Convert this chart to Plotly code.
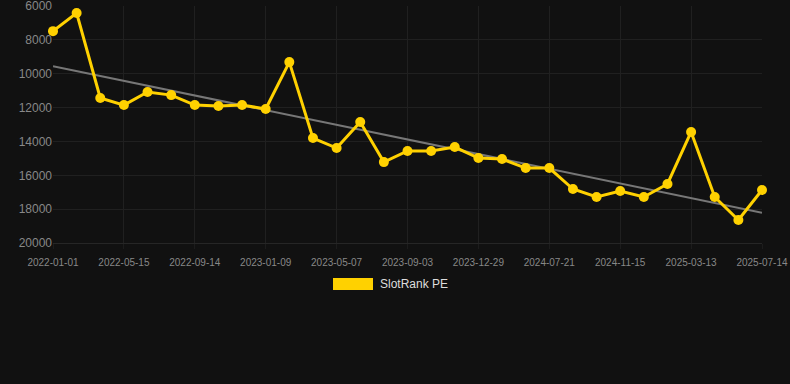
import plotly.graph_objects as go

dates = ["2022-01-01", "2022-02-14", "2022-03-30", "2022-05-15", "2022-06-24", "2022-08-04",
         "2022-09-14", "2022-10-24", "2022-12-01", "2023-01-09", "2023-02-17", "2023-03-28",
         "2023-05-07", "2023-06-15", "2023-07-25", "2023-09-03", "2023-10-11", "2023-11-20",
         "2023-12-29", "2024-03-10", "2024-05-15", "2024-07-21", "2024-08-30", "2024-10-08",
         "2024-11-15", "2024-12-24", "2025-02-01", "2025-03-13", "2025-04-21", "2025-06-04",
         "2025-07-14"]
rank = [7480, 6410, 11430, 11850, 11080, 11260, 11850, 11900, 11850, 12080, 9310, 13800,
        14390, 12850, 15220, 14560, 14560, 14330, 14980, 15040, 15570, 15570, 16810, 17280,
        16930, 17280, 16510, 13440, 17280, 18640, 16870]
trend_x = [dates[0], dates[-1]]
trend_y = [9550, 18210]
tick_labels = dates[::3]
y_ticks = [6000, 8000, 10000, 12000, 14000, 16000, 18000, 20000]
series_name = "SlotRank PE"
yellow = "#FFD100"

fig = go.Figure()
fig.add_trace(go.Scatter(x=trend_x, y=trend_y, mode="lines",
                         line=dict(color="#777777", width=2), showlegend=False,
                         hoverinfo="skip", cliponaxis=False))
fig.add_trace(go.Scatter(x=dates, y=rank, mode="lines+markers", name=series_name,
                         line=dict(color=yellow, width=3),
                         marker=dict(color=yellow, size=10),
                         showlegend=False, cliponaxis=False))

fig.update_layout(
    width=790, height=384,
    paper_bgcolor="#111111", plot_bgcolor="#111111",
    margin=dict(l=53, r=28, t=6, b=141, autoexpand=False),
    font=dict(family="Liberation Sans, Arial, sans-serif", color="#888888"),
    showlegend=False,
    xaxis=dict(type="category", categoryorder="array", categoryarray=dates,
               range=[0, len(dates) - 1], tickvals=tick_labels, ticktext=tick_labels,
               showgrid=True, gridcolor="#202020", gridwidth=1, automargin=False,
               zeroline=False, showline=True, linecolor="#262626", linewidth=1,
               ticks="outside", ticklen=5, tickcolor="#1c1c1c", ticklabelstandoff=5,
               ticklabeloverflow="allow",
               tickfont=dict(size=10, color="#888888")),
    yaxis=dict(range=[20000, 5995], tickvals=y_ticks, ticktext=[str(v) for v in y_ticks],
               showgrid=True, gridcolor="#202020", gridwidth=1, automargin=False,
               zeroline=False, showline=False, ticks="", ticklabeloverflow="allow",
               tickfont=dict(size=12, color="#888888")),
)

fig.add_shape(type="rect", xref="paper", yref="paper",
              x0=(333 - 53) / 709, x1=(373 - 53) / 709,
              y0=(243 - 290) / 237, y1=(243 - 278) / 237,
              fillcolor=yellow, line=dict(width=0))
fig.add_annotation(text=series_name, xref="paper", yref="paper",
                   x=(378 - 53) / 709, y=(243 - 284) / 237,
                   xanchor="left", yanchor="middle", showarrow=False,
                   font=dict(size=12, color="#dddddd"))

fig.write_html("out.html", config={"displayModeBar": False})

with open("out.html", "r", encoding="utf-8") as f:
    html = f.read()
html = html.replace("<head>", "<head><style>html,body{margin:0;padding:0;background:#111111;overflow:hidden;}</style>", 1)
with open("out.html", "w", encoding="utf-8") as f:
    f.write(html)
